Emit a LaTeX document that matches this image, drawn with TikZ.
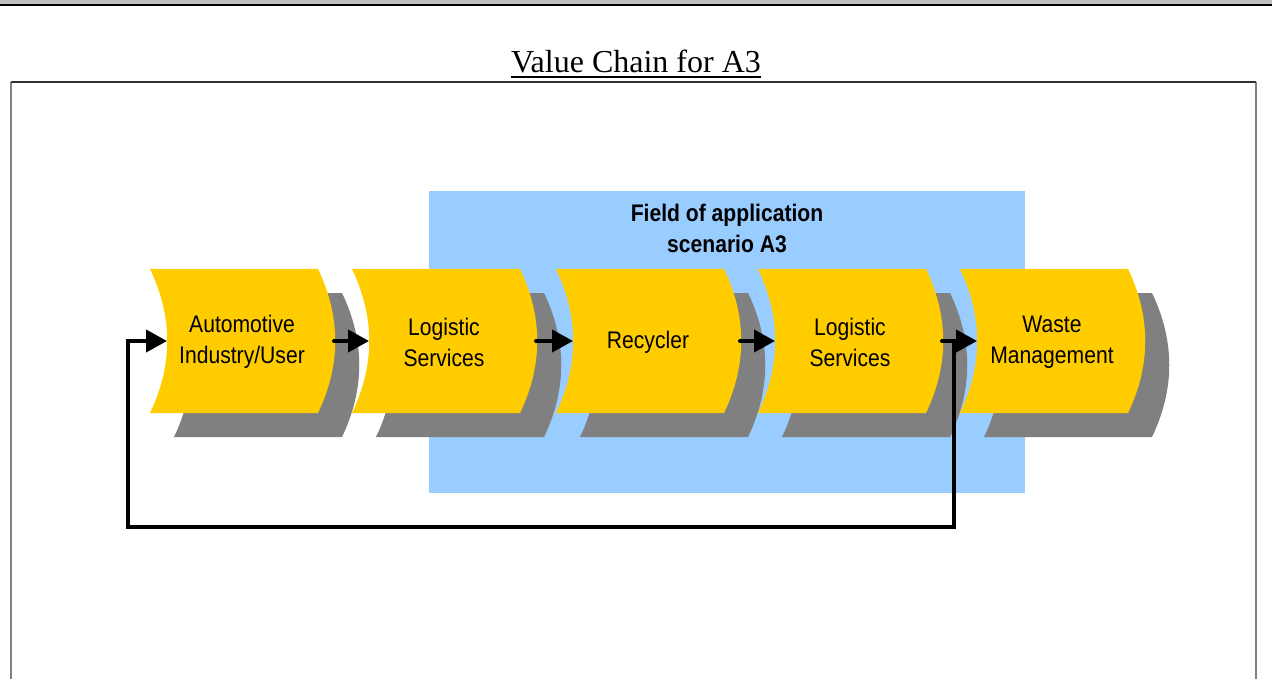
\documentclass[tikz,border=0pt]{standalone}
\usepackage{fontspec}
\setmainfont{Liberation Serif}
\newfontfamily\chainfont{Liberation Sans}[FakeStretch=0.88]
\usetikzlibrary{calc, arrows.meta}

\definecolor{chevyellow}{HTML}{FFCC00}
\definecolor{shadowgrey}{HTML}{808080}
\definecolor{fieldblue}{HTML}{99CCFF}
\definecolor{bandgrey}{HTML}{C0C0C0}

% one stage of the chain: name, left x, text
\newcommand{\stage}[3]{%
  \fill[shadowgrey] (#2+24,293) -- (#2+192,293)
    .. controls (#2+215,341) and (#2+215,389) .. (#2+192,437)
    -- (#2+24,437) .. controls (#2+47,389) and (#2+47,341) .. cycle;
  \fill[chevyellow] (#2,269) -- (#2+168,269)
    .. controls (#2+191,317) and (#2+191,365) .. (#2+168,413)
    -- (#2,413) .. controls (#2+23,365) and (#2+23,317) .. cycle;
  \node[stagetext] (#1) at (#2+92,342) {#3};
  \coordinate (#1-in) at (#2+17,341);
  \coordinate (#1-out) at (#2+184,341);
}

\begin{document}
\begin{tikzpicture}[x=1pt, y=-1pt,
  stagetext/.style = {align=center, inner sep=0pt,
    font=\chainfont\fontsize{24}{31}\selectfont},
  flow/.style = {line width=4pt, line cap=round,
    -{Triangle[length=21pt, width=22pt]}}]
\useasboundingbox (0,0) rectangle (1272,679);

% header band and frame
\fill[bandgrey] (0,0) rectangle (1272,4);
\draw[line width=2.5pt] (0,5) -- (1272,5);
\draw[shadowgrey, line width=2pt] (11,680) -- (11,82);
\draw[shadowgrey, line width=2pt] (1256,82) -- (1256,680);
\draw[black!80, line width=1.2pt] (11,82) -- (1256,82);

\node[anchor=base, inner sep=0pt, font=\fontsize{32}{38}\selectfont]
  (title) at (636,73) {Value Chain for A3};
\draw[line width=2pt] ([yshift=-4pt]title.base west) -- ([yshift=-4pt]title.base east);

% field of application
\fill[fieldblue] (429,191) rectangle (1025,493);
\node[stagetext, font=\chainfont\bfseries\fontsize{24}{31}\selectfont]
  (field) at (727,228) {Field of application\\scenario A3};

\stage{auto}{150}{Automotive\\Industry/User}
\stage{log1}{352}{Logistic\\Services}
\stage{recy}{556}{Recycler}
\stage{log2}{758}{Logistic\\Services}
\stage{waste}{960}{Waste\\Management}

\draw[flow] (auto-out) -- (log1-in);
\draw[flow] (log1-out) -- (recy-in);
\draw[flow] (recy-out) -- (log2-in);
\draw[flow] (log2-out) -- (waste-in);
% way back
\draw[flow, line cap=butt] ([xshift=12pt]log2-out) -- ++(0,186) -| ([xshift=-39pt]auto-in) -- (auto-in);
\end{tikzpicture}
\end{document}
